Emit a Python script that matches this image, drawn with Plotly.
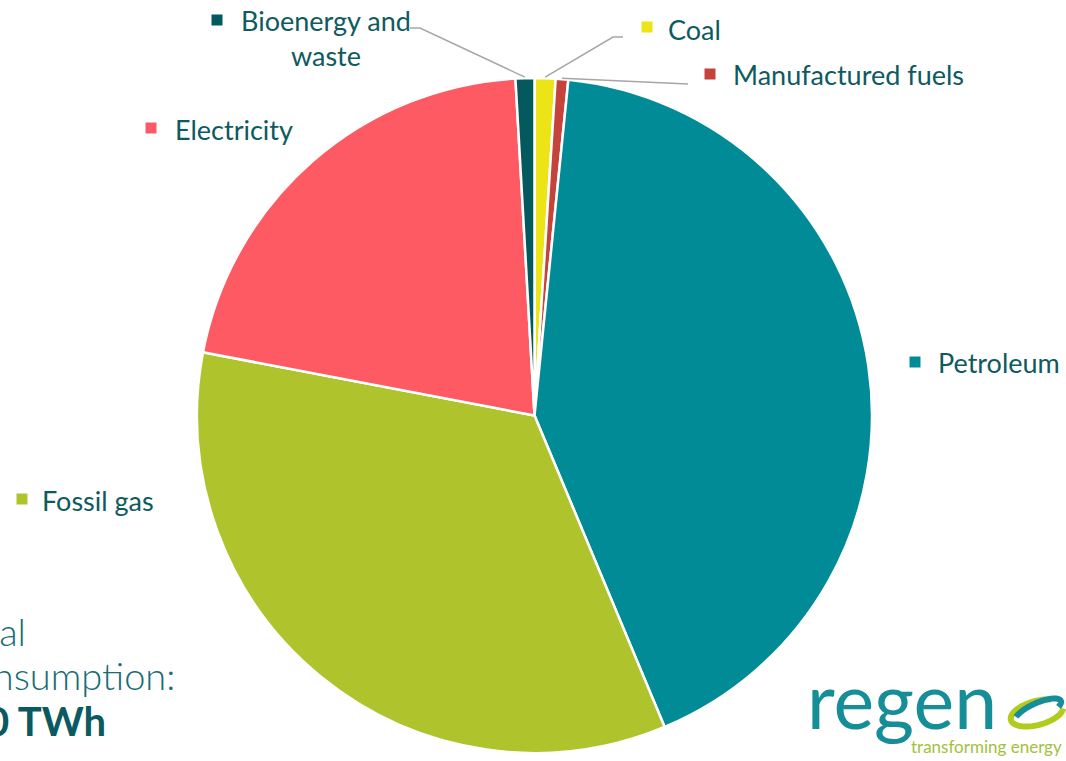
import numpy as np
import plotly.graph_objects as go

W, H = 1066, 761

# ---- data (share of final consumption, %) ----
labels = ["Coal", "Manufactured fuels", "Petroleum", "Fossil gas", "Electricity", "Bioenergy and waste"]
values = [1.0, 0.6, 42.1, 34.3, 21.1, 0.9]
colors = ["#EDE417", "#C4433A", "#008B97", "#AFC42C", "#FE5A63", "#03595E"]
label_text = ["Coal", "Manufactured fuels", "Petroleum", "Fossil gas", "Electricity", "Bioenergy and<br>waste"]
total_lines = ["Total", "consumption:", "1,640 TWh"]

TXT = "#0E5A61"
FONT = "Lato"
LSIZE = 27

# pie geometry (pixels)
CX, CY, R = 534.5, 415.5, 337.5


def px(x):
    return x / W


def py(y):
    return 1 - y / H


fig = go.Figure(go.Pie(
    labels=labels, values=values, sort=False, direction="clockwise", rotation=0,
    marker=dict(colors=colors, line=dict(color="white", width=2.5)),
    textinfo="none", hoverinfo="label+percent", showlegend=False,
    domain=dict(x=[px(CX - R), px(CX + R)], y=[py(CY + R), py(CY - R)]),
))

shapes = []
annotations = []

# label squares + text: (square centre x, y, text left x, text centre y)
label_pos = {
    "Coal": (647, 27, 666, 30),
    "Manufactured fuels": (710, 74, 731, 75),
    "Petroleum": (915, 362, 936, 362),
    "Fossil gas": (22, 499, 40, 501),
    "Electricity": (151, 128, 173, 130),
    "Bioenergy and waste": (217, 20, 326, 38),
}
for lab, txt, col in zip(labels, label_text, colors):
    sx, sy, tx, ty = label_pos[lab]
    s = 5.5
    shapes.append(dict(type="rect", xref="paper", yref="paper",
                       x0=px(sx - s), x1=px(sx + s), y0=py(sy + s), y1=py(sy - s),
                       fillcolor=col, line=dict(width=0)))
    if lab == "Bioenergy and waste":
        annotations.append(dict(text=txt, x=px(tx), y=py(ty), xref="paper", yref="paper",
                                xanchor="center", yanchor="middle", align="center", showarrow=False,
                                font=dict(family=FONT, size=LSIZE, color=TXT)))
    else:
        annotations.append(dict(text=txt, x=px(tx), y=py(ty), xref="paper", yref="paper",
                                xanchor="left", yanchor="middle", showarrow=False,
                                font=dict(family=FONT, size=LSIZE, color=TXT)))

# leader lines for the small slices, anchored at slice mid-angles
cum = np.cumsum([0] + values)
tot = cum[-1]
mid = {lab: (cum[i] + values[i] / 2) / tot * 2 * np.pi for i, lab in enumerate(labels)}


def edge(lab, rr=R):
    a = mid[lab]
    return CX + rr * np.sin(a), CY - rr * np.cos(a)


leaders = {
    "Bioenergy and waste": [(410, 28), (420, 28)],
    "Coal": [(623, 37), (613, 37)],
    "Manufactured fuels": [(688, 84)],
}
for lab, pts in leaders.items():
    ex, ey = edge(lab, R + 1)
    allp = pts + [(ex, ey)]
    d = "M " + " L ".join(f"{px(x):.5f},{py(y):.5f}" for x, y in allp)
    shapes.append(dict(type="path", xref="paper", yref="paper", path=d,
                       line=dict(color="#A6A6A6", width=1.5)))

# total consumption text (partially off the left edge)
annotations.append(dict(text=total_lines[0], x=px(28), y=py(656), xref="paper", yref="paper",
                        xanchor="right", yanchor="bottom", showarrow=False,
                        font=dict(family=FONT, size=38, color="#176D74", weight=300)))
annotations.append(dict(text=total_lines[1], x=px(177), y=py(700), xref="paper", yref="paper",
                        xanchor="right", yanchor="bottom", showarrow=False,
                        font=dict(family=FONT, size=38, color="#176D74", weight=300)))
annotations.append(dict(text="<b>" + total_lines[2] + "</b>", x=px(108), y=py(747), xref="paper", yref="paper",
                        xanchor="right", yanchor="bottom", showarrow=False,
                        font=dict(family=FONT, size=40, color="#0B5A61")))

# regen logo
annotations.append(dict(text="regen", x=px(805), y=py(747), xref="paper", yref="paper",
                        xanchor="left", yanchor="bottom", showarrow=False,
                        font=dict(family=FONT, size=77, color="#168E97", weight=400)))
annotations.append(dict(text="transforming energy", x=px(1064), y=py(746), xref="paper", yref="paper",
                        xanchor="right", yanchor="middle", showarrow=False,
                        font=dict(family=FONT, size=17, color="#A3C13A")))


def ring(cx, cy, rx, ry, rot, t0=0, t1=2 * np.pi, n=60):
    t = np.linspace(t0, t1, n)
    c, s = np.cos(np.radians(rot)), np.sin(np.radians(rot))
    x = cx + rx * np.cos(t) * c - ry * np.sin(t) * s
    y = cy + rx * np.cos(t) * s + ry * np.sin(t) * c
    return "M " + " L ".join(f"{px(a):.5f},{py(b):.5f}" for a, b in zip(x, y))


shapes.append(dict(type="path", xref="paper", yref="paper", path=ring(1037, 713, 27, 12, -15, 0.2, 2 * np.pi - 0.9),
                   line=dict(color="#B2CC1E", width=6)))
shapes.append(dict(type="path", xref="paper", yref="paper", path=ring(1038, 711, 25, 8, -24, 3.6, 6.9),
                   line=dict(color="#168E97", width=6)))

fig.update_layout(
    width=W, height=H, margin=dict(l=0, r=0, t=0, b=0),
    paper_bgcolor="white", plot_bgcolor="white",
    shapes=shapes, annotations=annotations,
)

fig.write_html("out.html")
